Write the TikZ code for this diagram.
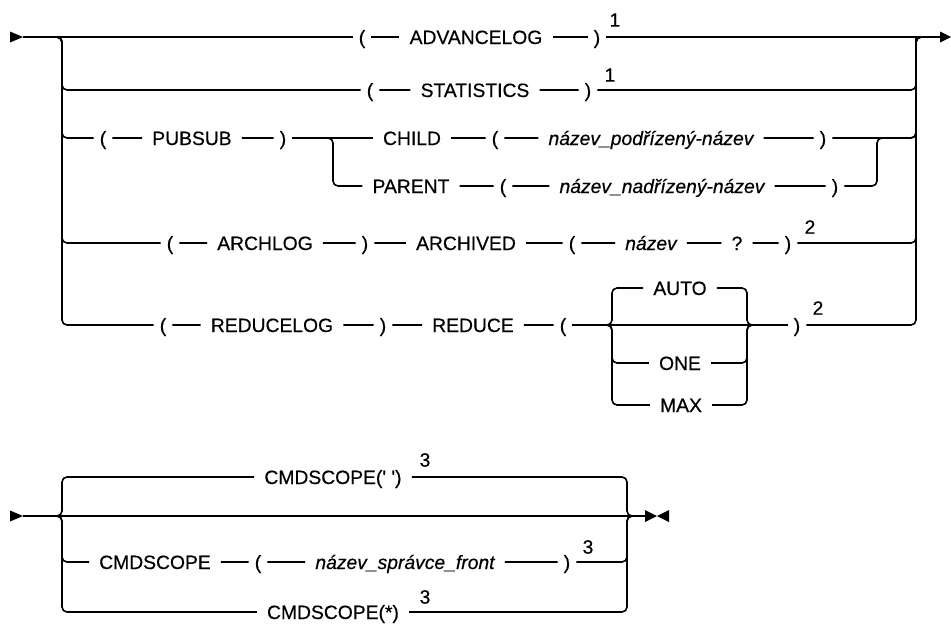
\documentclass[tikz,border=0pt]{standalone}
\usepackage{fontspec}
\setmainfont{Liberation Sans}[FakeBold=0.45]
\usepackage{tikz}
\usetikzlibrary{positioning,calc}
\newcommand\railfont{\fontsize{19.3}{23}\selectfont}
\tikzset{
  kw/.style={inner xsep=10pt, inner ysep=0pt, text height=14pt,
             text depth=0pt, font=\railfont},
  paren/.style={kw, inner xsep=6pt},
  var/.style={kw, font=\railfont\itshape},
  note/.style={inner sep=0pt, font=\railfont},
  rail/.style={line width=1.6pt, rounded corners=5pt},
  tip/.style={sharp corners}
}
\begin{document}
\begin{tikzpicture}[x=1pt, y=-1pt]
      \useasboundingbox (0,0) rectangle (951,624);
      % Junction points of the first diagram
      \coordinate (in)  at (23,37);
      \coordinate (lj)  at (62,37);
      \coordinate (rj)  at (916,37);
      \coordinate (out) at (940,37);
      \fill[tip] (10,31.5) -- (in) -- (10,42.5) -- cycle;
      \fill[tip] (out) ++(0,-5.5) -- (951,37) -- (940,42.5) -- cycle;
      % Row 1 : main line
      \node[paren] (p1l) at (362,37) {(};
      \node[kw]    (adv) at (476,37) {ADVANCELOG};
      \node[paren] (p1r) at (597,37) {)};
      \node[note]  (n1)  at (615,20) {1};
      \draw[rail] (in) -- (p1l) -- (adv) -- (p1r) -- (out);
      % Row 2
      \node[paren] (p2l)  at (370,90) {(};
      \node[kw]    (stat) at (475,90) {STATISTICS};
      \node[paren] (p2r)  at (588,90) {)};
      \node[note]  (n2)   at (610,75) {1};
      \draw[rail] (in) -- (lj) |- (p2l) -- (stat) -- (p2r) -| (rj) -- (out);
      % Row 3 : PUBSUB with CHILD / PARENT choice
      \coordinate (sl) at (333,138);
      \coordinate (sr) at (877,138);
      \node[paren] (p3l)  at (103,138) {(};
      \node[kw]    (pub)  at (192,138) {PUBSUB};
      \node[paren] (p3r)  at (283,138) {)};
      \node[kw]    (child)  at (412,138) {CHILD};
      \node[paren] (p3c)    at (495,138) {(};
      \node[var]   (vchild) at (651,138) {název\_podřízený-název};
      \node[paren] (p3cr)   at (823,138) {)};
      \node[kw]    (parent)  at (411,186) {PARENT};
      \node[paren] (p3p)     at (503,186) {(};
      \node[var]   (vparent) at (662,186) {název\_nadřízený-název};
      \node[paren] (p3pr)    at (835,186) {)};
      \draw[rail] (in) -- (lj) |- (p3l) -- (pub) -- (p3r) -- (child)
        -- (p3c) -- (vchild) -- (p3cr) -| (rj) -- (out);
      \draw[rail] (p3r) -- (sl) |- (parent) -- (p3p) -- (vparent) -- (p3pr)
        -| (sr) -| (rj);
      % Row 4 : ARCHLOG
      \node[paren] (p4l)   at (170,243) {(};
      \node[kw]    (arch)  at (265,243) {ARCHLOG};
      \node[paren] (p4r)   at (365,243) {)};
      \node[kw]    (archd) at (466,243) {ARCHIVED};
      \node[paren] (p4a)   at (572,243) {(};
      \node[var]   (vname) at (651,243) {název};
      \node[kw]    (q)     at (737,243) {?};
      \node[paren] (p4b)   at (788,243) {)};
      \node[note]  (n4)    at (810,227) {2};
      \draw[rail] (in) -- (lj) |- (p4l) -- (arch) -- (p4r) -- (archd) -- (p4a)
        -- (vname) -- (q) -- (p4b) -| (rj) -- (out);
      % Row 5 : REDUCELOG with AUTO / ONE / MAX choice
      \coordinate (cl) at (612,325);
      \coordinate (cr) at (747,325);
      \node[paren] (p5l)  at (163,325) {(};
      \node[kw]    (red)  at (272,325) {REDUCELOG};
      \node[paren] (p5r)  at (383,325) {)};
      \node[kw]    (redc) at (473,325) {REDUCE};
      \node[paren] (p5a)  at (563,325) {(};
      \node[kw]    (auto) at (680,288) {AUTO};
      \node[kw]    (one)  at (680,363) {ONE};
      \node[kw]    (max)  at (681,405) {MAX};
      \node[paren] (p5b)  at (797,325) {)};
      \node[note]  (n5)   at (818,308) {2};
      \draw[rail] (in) -- (lj) |- (p5l) -- (red) -- (p5r) -- (redc) -- (p5a)
        -- (p5b) -| (rj) -- (out);
      \foreach \opt in {auto,one,max}
        \draw[rail] (p5a) -- (cl) |- (\opt) -| (cr) -- (p5b);
      % Second diagram : CMDSCOPE
      \coordinate (bin)  at (23,516);
      \coordinate (bl)   at (62,516);
      \coordinate (br)   at (627,516);
      \coordinate (bout) at (645,516);
      \fill[tip] (10,510.5) -- (bin) -- (10,521.5) -- cycle;
      \fill[tip] (bout) ++(0,-6) -- (657,516) -- (645,522) -- cycle;
      \fill[tip] (669,510) -- (657,516) -- (669,522) -- cycle;
      \node[kw]    (cs1)   at (333,477) {CMDSCOPE(\textquotesingle\ \textquotesingle)};
      \node[note]  (n6)    at (425,460) {3};
      \node[kw]    (cs2)   at (155,562) {CMDSCOPE};
      \node[paren] (p6l)   at (258,562) {(};
      \node[var]   (front) at (405,562) {název\_správce\_front};
      \node[paren] (p6r)   at (567,562) {)};
      \node[note]  (n7)    at (588,547) {3};
      \node[kw]    (cs3)   at (333,612) {CMDSCOPE(*)};
      \node[note]  (n8)    at (425,597) {3};
      \draw[rail] (bin) -- (bout);
      \draw[rail] (bin) -- (bl) |- (cs1) -| (br) -- (bout);
      \draw[rail] (bin) -- (bl) |- (cs2) -- (p6l) -- (front) -- (p6r)
        -| (br) -- (bout);
      \draw[rail] (bin) -- (bl) |- (cs3) -| (br) -- (bout);
    \end{tikzpicture}
\end{document}
